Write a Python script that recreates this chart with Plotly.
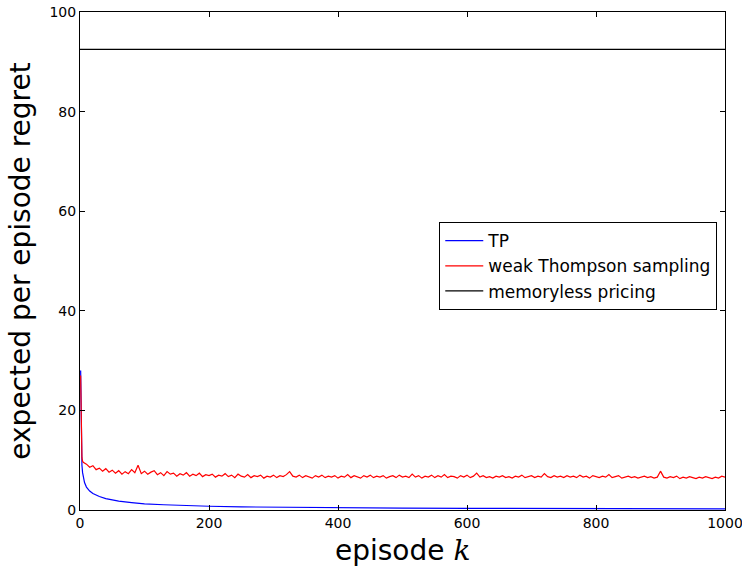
import plotly.graph_objects as go

# TP (blue) expected per-episode regret
tp_episodes = [1, 2, 3, 4, 5, 7, 10, 15, 20, 30, 40, 50, 60, 80, 100, 130, 160, 200,
               250, 300, 400, 500, 600, 700, 800, 900, 1000]
tp_regret = [28, 14, 9, 7.5, 6.5, 5.5, 4.6, 3.8, 3.3, 2.7, 2.3, 2.0, 1.8, 1.5, 1.25, 1.05,
             0.9, 0.75, 0.62, 0.55, 0.45, 0.38, 0.33, 0.30, 0.27, 0.25, 0.23]

# weak Thompson sampling (red)
wts_episodes = [1, 2, 3, 4] + list(range(5, 1001, 5))
wts_regret = [27, 12, 10.5, 9.8,
    9.6, 9.2, 8.6, 8.9, 8.1, 8.4, 7.8, 8.3, 7.6, 8.0,
    7.4, 7.9, 7.2, 7.7, 7.3, 8.1, 7.5, 9.0, 7.3, 7.8,
    7.2, 7.6, 7.9, 7.1, 7.5, 6.9, 7.7, 7.2, 7.4, 6.8,
    7.3, 7.0, 7.5, 6.8, 7.2, 6.9, 7.4, 6.7, 7.1, 6.9,
    7.2, 6.6, 7.0, 6.8, 7.3, 6.7, 7.0, 6.5, 7.2, 6.8,
    6.6, 7.1, 6.5, 6.9, 6.7, 7.0, 6.4, 6.8, 6.6, 7.0,
    6.5, 6.9, 6.7, 7.1, 7.7, 6.8, 6.6, 7.0, 6.5, 6.9,
    6.7, 6.4, 6.9, 6.6, 7.0, 6.5, 6.8, 6.6, 6.9, 6.4,
    6.8, 6.6, 7.1, 6.5, 6.9, 6.7, 6.4, 6.9, 6.6, 7.0,
    6.5, 6.8, 6.6, 6.9, 6.4, 6.7, 6.9, 6.5, 7.0, 6.6,
    6.8, 6.5, 7.2, 6.6, 6.9, 6.4, 6.8, 6.6, 7.0, 6.5,
    6.9, 6.6, 7.1, 6.5, 6.8, 6.7, 6.4, 6.9, 6.6, 7.0,
    6.5, 6.8, 7.4, 6.6, 6.9, 6.5, 6.7, 6.4, 6.8, 6.6,
    6.9, 6.5, 6.7, 6.4, 6.8, 6.6, 7.0, 6.5, 6.7, 6.9,
    6.5, 6.8, 6.6, 7.3, 6.7, 6.5, 6.9, 6.6, 6.8, 6.5,
    6.9, 6.6, 6.8, 6.5, 7.0, 6.6, 6.8, 6.4, 6.9, 6.7,
    6.5, 6.8, 6.6, 7.1, 6.5, 6.7, 6.9, 6.4, 6.6, 6.8,
    6.5, 6.7, 6.4, 6.6, 6.8, 6.5, 6.7, 6.4, 6.6, 7.8,
    6.6, 6.4, 6.7, 6.5, 6.8, 6.3, 6.6, 6.4, 6.7, 6.5,
    6.3, 6.6, 6.4, 6.7, 6.5, 6.3, 6.6, 6.4, 6.8, 6.6]

# memoryless pricing (black)
mp_episodes = [0, 1000]
mp_regret = [92.5, 92.5]

x_ticks = [0, 200, 400, 600, 800, 1000]
y_ticks = [0, 20, 40, 60, 80, 100]

font_family = "DejaVu Sans"

fig = go.Figure()
fig.add_trace(go.Scatter(x=tp_episodes, y=tp_regret, mode="lines", name="TP",
                         line=dict(color="#0000ff", width=1.2)))
fig.add_trace(go.Scatter(x=wts_episodes, y=wts_regret, mode="lines",
                         name="weak Thompson sampling",
                         line=dict(color="#ff0000", width=1.2)))
fig.add_trace(go.Scatter(x=mp_episodes, y=mp_regret, mode="lines",
                         name="memoryless pricing",
                         line=dict(color="#000000", width=1.2)))

axis_common = dict(showline=True, linecolor="black", linewidth=1, mirror="ticks",
                   ticks="inside", ticklen=5, tickcolor="black", showgrid=False,
                   zeroline=False, automargin=False, ticklabeloverflow="allow",
                   tickfont=dict(family=font_family, size=14, color="black"))

fig.update_layout(
    width=742, height=568,
    margin=dict(l=80, r=17, t=12, b=58),
    paper_bgcolor="white", plot_bgcolor="white",
    font=dict(family=font_family, color="black"),
    xaxis=dict(range=[0, 1000], tickvals=x_ticks, ticktext=[str(v) for v in x_ticks],
               **axis_common),
    yaxis=dict(range=[0, 100], tickvals=y_ticks, ticktext=[str(v) for v in y_ticks],
               title=dict(text="expected per episode regret",
                          font=dict(family=font_family, size=28), standoff=10),
               **axis_common),
    legend=dict(x=0.557, y=0.578, xanchor="left", yanchor="top",
                bgcolor="white", bordercolor="black", borderwidth=1,
                font=dict(family=font_family, size=17), itemwidth=38),
    showlegend=True,
)

# x-axis title placed below the tick labels
fig.add_annotation(
    text='episode <span style="font-family:DejaVu Serif"><i>k</i></span>',
    xref="paper", yref="paper", x=0.5, y=0, xanchor="center", yanchor="middle",
    yshift=-40, showarrow=False, font=dict(family=font_family, size=28, color="black"),
)

fig.write_html("out.html", config={"displayModeBar": False},
               post_script="document.body.style.margin='0';")
